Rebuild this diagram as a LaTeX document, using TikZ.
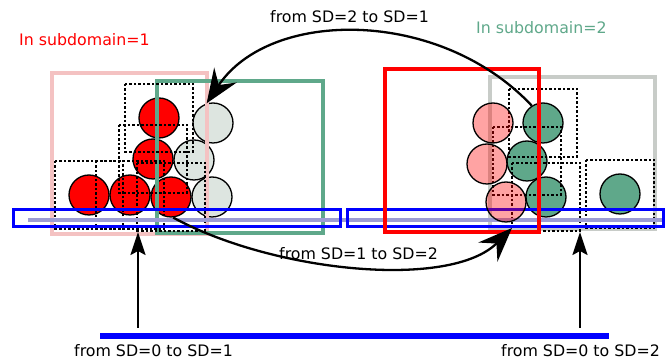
\documentclass[tikz,border=0pt]{standalone}
\usepackage{fontspec}
\setmainfont{DejaVu Sans}
\usetikzlibrary{arrows.meta}
\definecolor{sdgreen}{HTML}{5FA88A}
\definecolor{sdpink}{HTML}{F4C2C2}
\definecolor{ghostgrey}{HTML}{DDE5E0}
\definecolor{boxgrey}{HTML}{C8CCC8}
\definecolor{lavender}{HTML}{9C9CD4}
\tikzset{
  ball/.style={circle, draw, line width=1.3pt, minimum size=40pt, inner sep=0pt},
  redball/.style={ball, fill=red},
  greenball/.style={ball, fill=sdgreen},
  ghostball/.style={ball, fill=ghostgrey},
  pinkball/.style={ball, fill=red, fill opacity=0.36},
  cellbox/.style={line width=1.2pt, dash pattern=on 2.5pt off 2pt},
  halobox/.style={blue, line width=3pt},
  lbl/.style={font=\fontsize{15.8}{19}\selectfont, inner sep=0pt, anchor=base west},
  bigarrow/.style={line width=2.3pt, -{Stealth[length=34pt, width=27pt, inset=12pt]}},
  uparrow/.style={line width=2.3pt, -{Stealth[length=23pt, width=15pt, inset=4pt]}}
}
\begin{document}
\begin{tikzpicture}[x=1pt, y=-1pt]
\useasboundingbox (0,0) rectangle (665,363);
\node[redball] (r1) at (159,118) {};
\node[redball] (r2) at (153,159) {};
\node[redball] (r3) at (89,195) {};
\node[redball] (r4) at (130,195) {};
\node[redball] (r5) at (171,197) {};
\node[ghostball] (q1) at (213,123) {};
\node[ghostball] (q2) at (194,160) {};
\node[ghostball] (q3) at (212,197) {};
\node[greenball] (g1) at (543,123) {};
\node[greenball] (g2) at (527,161) {};
\node[greenball] (g3) at (546,197) {};
\node[greenball] (g4) at (620,194) {};
\draw[sdpink, line width=3.5pt] (52,73) rectangle (207,234);
\draw[sdgreen, line width=3.5pt] (157,81) rectangle (323,233);
\draw[boxgrey, line width=3.5pt] (490,77) rectangle (655,229);
\foreach \b in {r1,r2,r3,r4,r5,g1,g2,g3,g4}
  \draw[cellbox] (\b) +(-34,-34) rectangle +(34,34);
\draw[lavender, line width=4pt] (28,220) -- (662,220);
\draw[halobox] (13,210) rectangle (340,227);
\draw[halobox] (347,210) rectangle (663,227);
\node[pinkball] (p1) at (493,123) {};
\node[pinkball] (p2) at (487,164) {};
\node[pinkball] (p3) at (506,202) {};
\draw[red, line width=4.5pt] (385,69) rectangle (539,232);
\node[lbl, red] (t1) at (19,46) {In subdomain=1};
\node[lbl, sdgreen] (t2) at (476,34) {In subdomain=2};
\node[lbl] (t3) at (270,23) {from SD=2 to SD=1};
\node[lbl] (t4) at (279,260) {from SD=1 to SD=2};
\node[lbl] (t5) at (74,357) {from SD=0 to SD=1};
\node[lbl] (t6) at (501,357) {from SD=0 to SD=2};
\coordinate (hitB) at (512,228);
\draw[bigarrow] (g1.123) .. controls (440,8) and (270,8) .. (q1.108);
\draw[bigarrow] (r5.-84) .. controls (273,272) and (450,290) .. (hitB);
\coordinate (barW) at (100,336);
\coordinate (barE) at (609,336);
\coordinate (srcA) at (138,328);
\coordinate (dstA) at (138,232);
\coordinate (srcB) at (580,328);
\coordinate (dstB) at (580,232);
\draw[blue, line width=6pt] (barW) -- (barE);
\draw[uparrow] (srcA) -- (dstA);
\draw[uparrow] (srcB) -- (dstB);
\end{tikzpicture}
\end{document}
